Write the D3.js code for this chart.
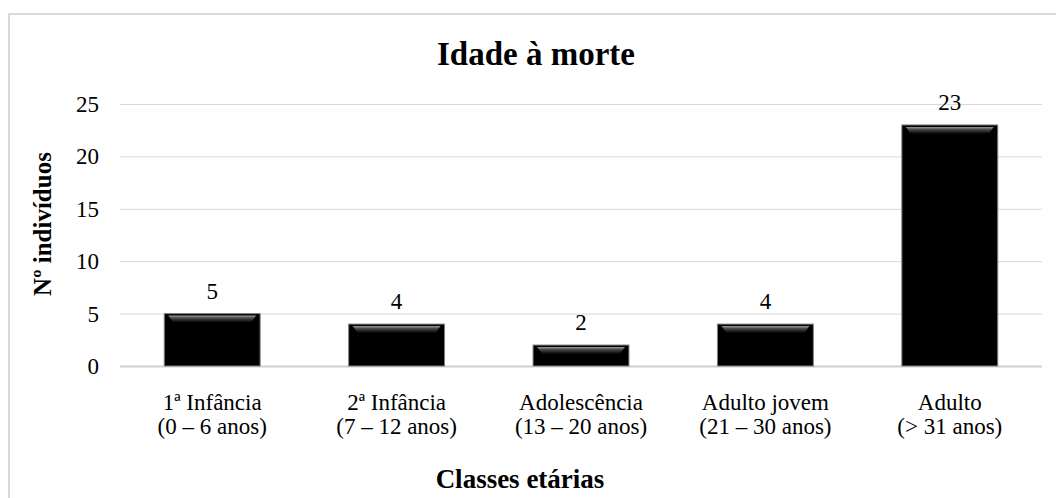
<!DOCTYPE html>
<html>
<head>
<meta charset="utf-8">
<script src="https://cdn.jsdelivr.net/npm/d3@7"></script>
<style>
  body { margin: 0; background: #fff; }
  text { font-family: "Liberation Serif", "Times New Roman", serif; fill: #000; }
</style>
</head>
<body>
<svg width="1056" height="498"></svg>
<script>
var categories = ["1ª Infância", "2ª Infância", "Adolescência", "Adulto jovem", "Adulto"];
var ranges = ["(0 – 6 anos)", "(7 – 12 anos)", "(13 – 20 anos)", "(21 – 30 anos)", "(> 31 anos)"];
var values = [5, 4, 2, 4, 23];
var yTicks = [0, 5, 10, 15, 20, 25];

var svg = d3.select("svg"),
    margin = {top: 104, left: 120},
    width = 1042 - margin.left,
    height = 366 - margin.top;

// outer frame, runs off the right and bottom edges
svg.append("rect")
    .attr("x", 9).attr("y", 14)
    .attr("width", 1060).attr("height", 500)
    .attr("fill", "#fff")
    .attr("stroke", "#d9d9d9")
    .attr("stroke-width", 2);

var defs = svg.append("defs");
var grad = defs.append("linearGradient")
    .attr("id", "shine").attr("x1", 0).attr("y1", 0).attr("x2", 0).attr("y2", 1);
grad.append("stop").attr("offset", "0%").attr("stop-color", "#9a9a9a");
grad.append("stop").attr("offset", "35%").attr("stop-color", "#4a4a4a");
grad.append("stop").attr("offset", "100%").attr("stop-color", "#000");

var x = d3.scaleBand().domain(categories).range([0, width]).paddingInner(0.48).paddingOuter(0.24),
    y = d3.scaleLinear().domain([0, 25]).range([height, 0]);

var g = svg.append("g")
    .attr("transform", "translate(" + margin.left + "," + margin.top + ")");

// gridlines
g.append("g").selectAll("line")
    .data(yTicks)
  .enter().append("line")
    .attr("x1", 0).attr("x2", width)
    .attr("y1", function(d) { return y(d) + 0.5; })
    .attr("y2", function(d) { return y(d) + 0.5; })
    .attr("stroke", function(d) { return d === 0 ? "#d0d0d0" : "#d9d9d9"; })
    .attr("stroke-width", function(d) { return d === 0 ? 2 : 1; });

// y tick labels
g.append("g").selectAll("text")
    .data(yTicks)
  .enter().append("text")
    .attr("x", -21)
    .attr("y", function(d) { return y(d); })
    .attr("dy", "0.35em")
    .attr("text-anchor", "end")
    .style("font-size", "23px")
    .text(function(d) { return d; });

// bars
var bar = g.selectAll(".bar")
    .data(values)
  .enter().append("g")
    .attr("class", "bar");

bar.append("rect")
    .attr("x", function(d, i) { return x(categories[i]); })
    .attr("y", function(d) { return y(d); })
    .attr("width", x.bandwidth())
    .attr("height", function(d) { return height - y(d); })
    .attr("fill", "#000")
    .attr("stroke", "#7f7f7f")
    .attr("stroke-width", 1);

// bevel highlight near top of each bar
bar.append("path")
    .attr("d", function(d, i) {
      var x0 = x(categories[i]) + 4, x1 = x(categories[i]) + x.bandwidth() - 4,
          y0 = y(d) + 2, h = Math.min(7, (height - y(d)) / 2);
      return "M" + x0 + "," + y0 + "L" + x1 + "," + y0 +
             "L" + (x1 - 5) + "," + (y0 + h) + "L" + (x0 + 5) + "," + (y0 + h) + "Z";
    })
    .attr("fill", "url(#shine)");

// value labels
bar.append("text")
    .attr("x", function(d, i) { return x(categories[i]) + x.bandwidth() / 2; })
    .attr("y", function(d) { return y(d) - 15; })
    .attr("text-anchor", "middle")
    .style("font-size", "23px")
    .text(function(d) { return d; });

// x category labels (two lines)
var xl = g.append("g").selectAll("text")
    .data(categories)
  .enter().append("text")
    .attr("text-anchor", "middle")
    .attr("transform", function(d) { return "translate(" + (x(d) + x.bandwidth() / 2) + "," + (height + 44) + ")"; })
    .style("font-size", "23px");
xl.append("tspan").attr("x", 0).attr("y", 0).text(function(d) { return d; });
xl.append("tspan").attr("x", 0).attr("y", 24).text(function(d, i) { return ranges[i]; });

// title
svg.append("text")
    .attr("x", 536).attr("y", 65)
    .attr("text-anchor", "middle")
    .style("font-size", "33px")
    .style("font-weight", "bold")
    .text("Idade à morte");

// axis titles
svg.append("text")
    .attr("x", 520).attr("y", 488)
    .attr("text-anchor", "middle")
    .style("font-size", "27px")
    .style("font-weight", "bold")
    .text("Classes etárias");

svg.append("text")
    .attr("transform", "translate(51,224) rotate(-90)")
    .attr("text-anchor", "middle")
    .style("font-size", "25px")
    .style("font-weight", "bold")
    .text("Nº indivíduos");
</script>
</body>
</html>
